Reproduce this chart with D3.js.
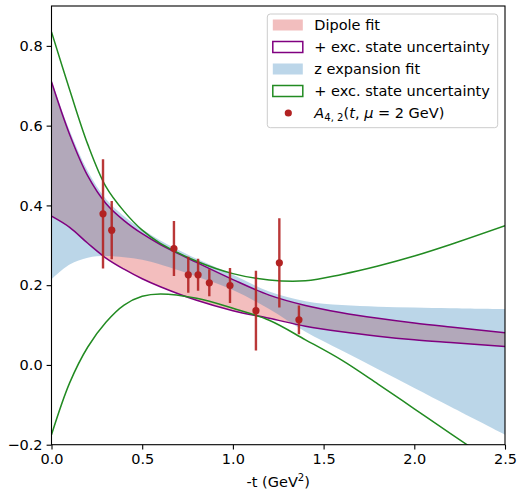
<!DOCTYPE html>
<html>
<head>
<meta charset="utf-8">
<script src="https://cdn.jsdelivr.net/npm/d3@7"></script>
<style>
  body { margin: 0; background: #fff; }
  svg { font-family: "DejaVu Sans", sans-serif; }
</style>
</head>
<body>
<div id="chart"></div>
<script>
// -t grid (GeV^2) the bands are read at
const tGrid = [0, 0.1, 0.2, 0.3, 0.4, 0.5, 0.6, 0.8, 1.0, 1.2, 1.4, 1.6, 1.8, 2.0, 2.2, 2.5];

// dipole fit band (+ exc. state uncertainty outline)
const dipoleHi = [0.710, 0.578, 0.474, 0.405, 0.362, 0.329, 0.302, 0.257, 0.214, 0.175, 0.149, 0.131, 0.117, 0.105, 0.095, 0.081];
const dipoleLo = [0.373, 0.345, 0.305, 0.268, 0.240, 0.216, 0.196, 0.162, 0.136, 0.117, 0.097, 0.083, 0.072, 0.063, 0.056, 0.046];

// z expansion fit band
const zexpHi = [0.712, 0.588, 0.486, 0.416, 0.373, 0.340, 0.312, 0.266, 0.226, 0.184, 0.160, 0.150, 0.146, 0.144, 0.142, 0.140];
const zexpLo = [0.215, 0.252, 0.269, 0.273, 0.270, 0.264, 0.252, 0.222, 0.188, 0.140, 0.083, 0.036, -0.011, -0.058, -0.105, -0.175];

// z expansion + exc. state uncertainty
const zexpExcHi = [0.835, 0.690, 0.553, 0.447, 0.385, 0.338, 0.305, 0.260, 0.229, 0.213, 0.211, 0.227, 0.248, 0.273, 0.302, 0.349];
const zexpExcLo = [-0.175, -0.045, 0.045, 0.107, 0.150, 0.172, 0.178, 0.167, 0.142, 0.112, 0.063, 0.012, -0.048, -0.110, -0.172, -0.265];

// lattice points A_{4,2}(t, mu = 2 GeV)
const tData = [0.284, 0.332, 0.675, 0.754, 0.808, 0.870, 0.984, 1.127, 1.256, 1.364];
const aData = [0.379, 0.338, 0.292, 0.226, 0.226, 0.206, 0.199, 0.136, 0.256, 0.113];
const aErr = [0.137, 0.073, 0.069, 0.045, 0.040, 0.034, 0.044, 0.100, 0.112, 0.036];

const xTicks = [0, 0.5, 1.0, 1.5, 2.0, 2.5];
const yTicks = [-0.2, 0.0, 0.2, 0.4, 0.6, 0.8];

const width = 519,
  height = 492;
const mLeft = 51.5,
  mRight = 505,
  mTop = 6,
  mBottom = 444.7;
const fs = 14.5;

const svg = d3
  .select("#chart")
  .append("svg")
  .attr("width", width)
  .attr("height", height);

const x = d3.scaleLinear().domain([0, 2.5]).range([mLeft, mRight]);
const y = d3.scaleLinear().domain([-0.2, 0.9]).range([mBottom, mTop]);

svg
  .append("clipPath")
  .attr("id", "clip")
  .append("rect")
  .attr("x", mLeft)
  .attr("y", mTop)
  .attr("width", mRight - mLeft)
  .attr("height", mBottom - mTop);

const plot = svg.append("g").attr("clip-path", "url(#clip)");

const band = (lo, hi) =>
  d3
    .area()
    .x((d, i) => x(tGrid[i]))
    .y0((d, i) => y(lo[i]))
    .y1((d, i) => y(hi[i]))
    .curve(d3.curveCatmullRom)(tGrid);

const line = (vals) =>
  d3
    .line()
    .x((d, i) => x(tGrid[i]))
    .y((d, i) => y(vals[i]))
    .curve(d3.curveCatmullRom)(tGrid);

plot.append("path").attr("d", band(dipoleLo, dipoleHi)).attr("fill", "#d62728").attr("fill-opacity", 0.3);
plot.append("path").attr("d", band(zexpLo, zexpHi)).attr("fill", "#1f77b4").attr("fill-opacity", 0.3);

[dipoleHi, dipoleLo].forEach((v) =>
  plot.append("path").attr("d", line(v)).attr("fill", "none").attr("stroke", "#800080").attr("stroke-width", 1.5)
);
[zexpExcHi, zexpExcLo].forEach((v) =>
  plot.append("path").attr("d", line(v)).attr("fill", "none").attr("stroke", "#228b22").attr("stroke-width", 1.5)
);

// error bars and points
plot
  .selectAll("line.err")
  .data(tData)
  .enter()
  .append("line")
  .attr("class", "err")
  .attr("x1", (d) => x(d))
  .attr("x2", (d) => x(d))
  .attr("y1", (d, i) => y(aData[i] - aErr[i]))
  .attr("y2", (d, i) => y(aData[i] + aErr[i]))
  .attr("stroke", "#b22222")
  .attr("stroke-opacity", 0.9)
  .attr("stroke-width", 2.4);

plot
  .selectAll("circle.pt")
  .data(tData)
  .enter()
  .append("circle")
  .attr("class", "pt")
  .attr("cx", (d) => x(d))
  .attr("cy", (d, i) => y(aData[i]))
  .attr("r", 3.6)
  .attr("fill", "#b22222");

// axes
const xAxis = svg
  .append("g")
  .attr("transform", `translate(0,${mBottom})`)
  .call(d3.axisBottom(x).tickValues(xTicks).tickFormat(d3.format(".1f")).tickSizeOuter(0).tickSize(4.9).tickPadding(4));
const yAxis = svg
  .append("g")
  .attr("transform", `translate(${mLeft},0)`)
  .call(d3.axisLeft(y).tickValues(yTicks).tickFormat(d3.format(".1f")).tickSizeOuter(0).tickSize(4.9).tickPadding(4));

[xAxis, yAxis].forEach((g) => {
  g.select(".domain").remove();
  g.selectAll("line").attr("stroke", "#000").attr("stroke-width", 1.1);
  g.selectAll("text").attr("font-size", fs).attr("fill", "#000").attr("font-family", "DejaVu Sans");
});

svg
  .append("rect")
  .attr("x", mLeft)
  .attr("y", mTop)
  .attr("width", mRight - mLeft)
  .attr("height", mBottom - mTop)
  .attr("fill", "none")
  .attr("stroke", "#000")
  .attr("stroke-width", 1.1);

const xl = svg
  .append("text")
  .attr("x", (mLeft + mRight) / 2)
  .attr("y", 487)
  .attr("text-anchor", "middle")
  .attr("font-size", fs);
xl.append("tspan").text("-t (GeV");
xl.append("tspan").attr("font-size", fs * 0.7).attr("dy", -6).text("2");
xl.append("tspan").attr("dy", 6).text(")");

// legend
const lg = svg.append("g").attr("transform", "translate(267.3,14)");
lg.append("rect")
  .attr("width", 230.4)
  .attr("height", 113.7)
  .attr("rx", 3)
  .attr("fill", "#fff")
  .attr("fill-opacity", 0.8)
  .attr("stroke", "#cccccc")
  .attr("stroke-width", 1);

const legendLabels = ["Dipole fit", "+ exc. state uncertainty", "z expansion fit", "+ exc. state uncertainty"];
const legendFill = ["#f2bebe", "none", "#bcd6e9", "none"];
const legendStroke = ["none", "#800080", "none", "#228b22"];

legendLabels.forEach((lab, i) => {
  const cy = 11 + i * 22;
  lg.append("rect")
    .attr("x", 5.5)
    .attr("y", cy - 5.5)
    .attr("width", 30)
    .attr("height", 11)
    .attr("fill", legendFill[i])
    .attr("stroke", legendStroke[i])
    .attr("stroke-width", 1.5);
  lg.append("text").attr("x", 47).attr("y", cy + 5).attr("font-size", fs).text(lab);
});

const cy5 = 11 + 4 * 22;
lg.append("circle").attr("cx", 21).attr("cy", cy5).attr("r", 3.6).attr("fill", "#b22222");
const mt = lg.append("text").attr("x", 47).attr("y", cy5 + 5).attr("font-size", fs);
mt.append("tspan").attr("font-style", "italic").text("A");
mt.append("tspan").attr("font-size", fs * 0.7).attr("dy", 3).text("4, 2");
mt.append("tspan").attr("dy", -3).text("(");
mt.append("tspan").attr("font-style", "italic").text("t");
mt.append("tspan").text(", ");
mt.append("tspan").attr("font-style", "italic").text("μ");
mt.append("tspan").text(" = 2 GeV)");
</script>
</body>
</html>
